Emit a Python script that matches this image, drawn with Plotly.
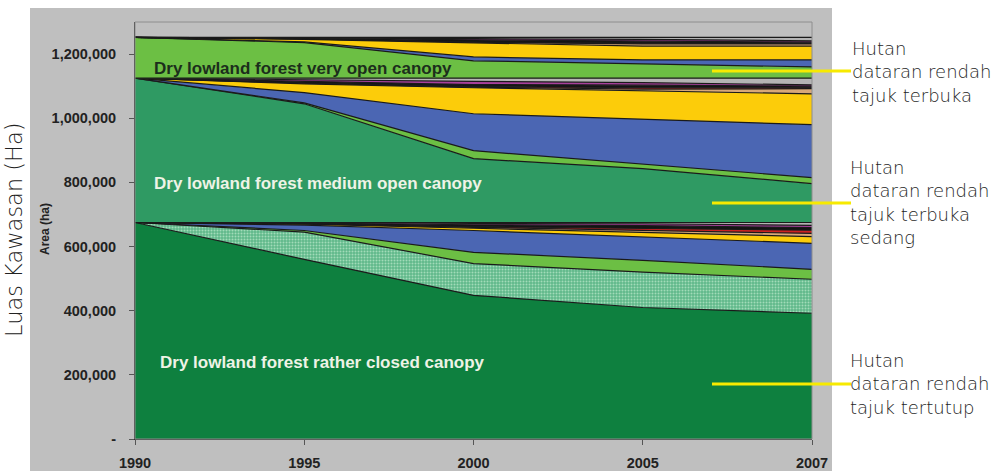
import plotly.graph_objects as go

# ---------------- data (hectares) ----------------
years = ["1990", "1995", "2000", "2005", "2007"]

# Block 1: originally "Dry lowland forest rather closed canopy"
b1_closed_forest = [675000, 560000, 448000, 410000, 392000]
b1_secondary     = [0, 85000, 99000, 110000, 106000]
b1_green         = [0, 5000, 35000, 37000, 31000]
b1_blue          = [0, 17000, 68000, 72000, 81000]
b1_yellow        = [0, 3000, 7000, 16000, 21000]
b1_tan           = [0, 1000, 3000, 6000, 10000]
b1_red           = [0, 0, 2000, 6000, 10000]
b1_black         = [0, 2000, 6000, 8000, 8000]
b1_magenta       = [0, 2000, 4000, 6000, 7000]
b1_gray          = [0, 0, 3000, 4000, 9000]

# Block 2: originally "Dry lowland forest medium open canopy"
b2_medium_forest = [450000, 370000, 199000, 168000, 121000]
b2_green         = [0, 3000, 25000, 15000, 19000]
b2_blue          = [0, 32000, 115000, 140000, 165000]
b2_yellow        = [0, 27000, 81000, 87000, 96000]
b2_tan           = [0, 2000, 2000, 6000, 16000]
b2_red           = [0, 1000, 2000, 4000, 3000]
b2_black         = [0, 5000, 6000, 8000, 5000]
b2_magenta       = [0, 4000, 10000, 8000, 4000]
b2_gray          = [0, 6000, 10000, 14000, 21000]

# Block 3: originally "Dry lowland forest very open canopy"
b3_open_forest   = [127000, 111000, 54000, 45000, 35000]
b3_blue          = [0, 2000, 12000, 12000, 22000]
b3_yellow        = [0, 8000, 44000, 43000, 43000]
b3_tan           = [0, 1000, 2000, 7000, 7000]
b3_red           = [0, 0, 1000, 2000, 1000]
b3_black         = [0, 3000, 6000, 6000, 4000]
b3_magenta       = [0, 1000, 4000, 6000, 4000]
b3_gray          = [0, 1000, 4000, 6000, 11000]

y_tickvals = [0, 200000, 400000, 600000, 800000, 1000000, 1200000]
y_ticktext = ["-", "200,000", "400,000", "600,000", "800,000", "1,000,000", "1,200,000"]

# ---------------- colours ----------------
C_CLOSED = "#0e803f"
C_SECOND_BG = "#60b98a"
C_SECOND_FG = "#a2dbb9"
C_MEDIUM = "#2f9a63"
C_GREEN = "#6cbf44"
C_BLUE = "#4b66b3"
C_YELLOW = "#fccc0a"
C_TAN = "#d8a878"
C_RED = "#cc2222"
C_BLACK = "#141414"
C_MAGENTA = "#a8409c"
C_GRAY = "#b4b4b4"

layers = [
    (b1_closed_forest, C_CLOSED, None),
    (b1_secondary, C_SECOND_BG, "pattern"),
    (b1_green, C_GREEN, None),
    (b1_blue, C_BLUE, None),
    (b1_yellow, C_YELLOW, None),
    (b1_tan, C_TAN, None),
    (b1_red, C_RED, None),
    (b1_black, C_BLACK, None),
    (b1_magenta, C_MAGENTA, None),
    (b1_gray, C_GRAY, None),
    (b2_medium_forest, C_MEDIUM, None),
    (b2_green, C_GREEN, None),
    (b2_blue, C_BLUE, None),
    (b2_yellow, C_YELLOW, None),
    (b2_tan, C_TAN, None),
    (b2_red, C_RED, None),
    (b2_black, C_BLACK, None),
    (b2_magenta, C_MAGENTA, None),
    (b2_gray, C_GRAY, None),
    (b3_open_forest, C_GREEN, None),
    (b3_blue, C_BLUE, None),
    (b3_yellow, C_YELLOW, None),
    (b3_tan, C_TAN, None),
    (b3_red, C_RED, None),
    (b3_black, C_BLACK, None),
    (b3_magenta, C_MAGENTA, None),
    (b3_gray, C_GRAY, None),
]

fig = go.Figure()
for vals, col, pat in layers:
    kw = dict(
        x=years, y=vals, mode="lines", stackgroup="one",
        line=dict(color="#1a1a1a", width=1.2),
        fillcolor=col, showlegend=False, hoverinfo="skip",
    )
    if pat:
        kw["fillpattern"] = dict(shape=".", size=3, solidity=0.35,
                                 bgcolor=C_SECOND_BG, fgcolor=C_SECOND_FG,
                                 fillmode="replace")
    fig.add_trace(go.Scatter(**kw))

# ---------------- geometry helpers (pixel -> paper) ----------------
L, R, T, B = 135, 812, 22, 439
W, H = 1008, 471
PW, PH = R - L, B - T

def px(x):
    return (x - L) / PW

def py(y):
    return (B - y) / PH

fig.update_layout(
    template="none",
    width=W, height=H,
    margin=dict(l=L, r=W - R, t=T, b=H - B, pad=0, autoexpand=False),
    paper_bgcolor="white",
    plot_bgcolor="#c9c9c9",
    font=dict(family="Liberation Sans, Arial, sans-serif"),
)

tick_font = dict(size=14.5, color="#222222", family="Liberation Sans, Arial",
                 weight="bold")
fig.update_xaxes(
    type="category", range=[0, 4], showgrid=False, zeroline=False,
    automargin=False,
    showline=True, linecolor="#333333", linewidth=1,
    ticks="outside", ticklen=5, tickcolor="#555555",
    tickfont=tick_font, ticklabelstandoff=6,
)
fig.update_yaxes(
    range=[0, 1300000], showgrid=False, zeroline=False,
    automargin=False,
    showline=True, linecolor="#333333", linewidth=1,
    tickvals=y_tickvals, ticktext=y_ticktext,
    ticks="outside", ticklen=5, tickcolor="#555555",
    tickfont=tick_font, ticklabelstandoff=10,
)

shapes = [
    # grey panel behind chart
    dict(type="rect", xref="paper", yref="paper",
         x0=px(30), x1=px(832), y0=py(480), y1=py(8),
         fillcolor="#bfbfbf", line=dict(width=0), layer="below"),
    # plot border
    dict(type="rect", xref="paper", yref="paper",
         x0=0, x1=1, y0=0, y1=1,
         line=dict(color="#8e8e8e", width=1), fillcolor="rgba(0,0,0,0)"),
]
for yy in (71, 203, 384):
    shapes.append(dict(type="line", xref="paper", yref="paper",
                       x0=px(712), x1=px(851), y0=py(yy), y1=py(yy),
                       line=dict(color="#f7ea00", width=3)))
fig.update_layout(shapes=shapes)

ann = []
inner_font = dict(family="Liberation Sans, Arial", size=17, weight="bold")
ann.append(dict(text="Dry lowland forest very open canopy", x=px(152), y=py(68),
                xref="paper", yref="paper", xanchor="left", yanchor="middle",
                showarrow=False, font=dict(inner_font, color="#1c2e1c")))
ann.append(dict(text="Dry lowland forest medium open canopy", x=px(152), y=py(183),
                xref="paper", yref="paper", xanchor="left", yanchor="middle",
                showarrow=False, font=dict(inner_font, color="#eef3e6")))
ann.append(dict(text="Dry lowland forest rather closed canopy", x=px(158), y=py(362),
                xref="paper", yref="paper", xanchor="left", yanchor="middle",
                showarrow=False, font=dict(inner_font, color="#eef3e6")))

ann.append(dict(text="Area (ha)", x=px(45), y=py(229), xref="paper", yref="paper",
                textangle=-90, showarrow=False, xanchor="center", yanchor="middle",
                font=dict(family="Liberation Sans, Arial", size=12, color="#222222",
                          weight="bold")))
ann.append(dict(text="Luas Kawasan (Ha)", x=px(14), y=py(229), xref="paper",
                yref="paper", textangle=-90, showarrow=False,
                xanchor="center", yanchor="middle",
                font=dict(family="DejaVu Sans, sans-serif", size=22.5,
                          color="#222222", weight=200)))

right_font = dict(family="DejaVu Sans, sans-serif", size=18, color="#1e1e1e",
                  weight=200)
ann.append(dict(text="Hutan<br>dataran rendah<br>tajuk terbuka", x=px(850), y=py(72),
                xref="paper", yref="paper", xanchor="left", yanchor="middle",
                align="left", showarrow=False, font=right_font))
ann.append(dict(text="Hutan<br>dataran rendah<br>tajuk terbuka<br>sedang", x=px(848),
                y=py(202.5), xref="paper", yref="paper", xanchor="left",
                yanchor="middle", align="left", showarrow=False, font=right_font))
ann.append(dict(text="Hutan<br>dataran rendah<br>tajuk tertutup", x=px(848), y=py(384),
                xref="paper", yref="paper", xanchor="left", yanchor="middle",
                align="left", showarrow=False, font=right_font))
fig.update_layout(annotations=ann)

fig.write_html("out.html",
               config={"displayModeBar": False},
               post_script="document.body.style.margin='0';document.body.style.overflow='hidden';")
